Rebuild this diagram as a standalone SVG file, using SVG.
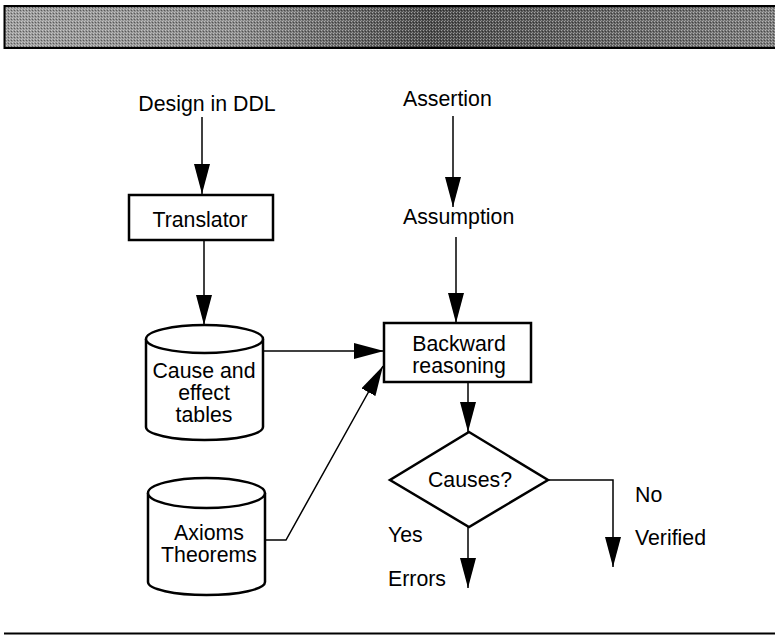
<svg xmlns="http://www.w3.org/2000/svg" width="775" height="635" viewBox="0 0 775 635">
<style>
text{font-family:"Liberation Sans",Arial,sans-serif;font-size:21.3px;fill:#000}
.c{text-anchor:middle}
.box{fill:#fff;stroke:#000;stroke-width:2.5}
.ln{fill:none;stroke:#000;stroke-width:1.5}
</style>
<defs>
<marker id="ah" markerUnits="userSpaceOnUse" markerWidth="31" markerHeight="16" refX="30" refY="8" orient="auto">
<path d="M0,0 L30,8 L0,16 z" fill="#000"/>
</marker>
<linearGradient id="bg" x1="0" y1="0" x2="1" y2="0">
<stop offset="0" stop-color="#9c9c9c"/>
<stop offset="0.3" stop-color="#8a8a8a"/>
<stop offset="0.55" stop-color="#4a4a4a"/>
<stop offset="0.75" stop-color="#606060"/>
<stop offset="1" stop-color="#7c7c7c"/>
</linearGradient>
<pattern id="dots" width="3" height="3" patternUnits="userSpaceOnUse">
<rect x="0" y="0" width="1" height="1" fill="#fff" fill-opacity="0.45"/>
<rect x="2" y="1" width="1" height="1" fill="#000" fill-opacity="0.4"/>
<rect x="1" y="2" width="1" height="1" fill="#fff" fill-opacity="0.3"/>
</pattern>
</defs>
<rect x="0" y="0" width="775" height="635" fill="#fff"/>
<g id="banner">
<rect x="4.5" y="6" width="772" height="42" fill="url(#bg)" stroke="#000" stroke-width="2"/>
<rect x="5.5" y="7" width="770" height="40" fill="url(#dots)"/>
</g>
<line x1="4" y1="633.5" x2="775" y2="633.5" stroke="#000" stroke-width="2"/>

<g id="connectors">
<line class="ln" x1="202" y1="117" x2="202" y2="194" marker-end="url(#ah)"/>
<line class="ln" x1="204" y1="240" x2="204" y2="325" marker-end="url(#ah)"/>
<line class="ln" x1="263" y1="351" x2="384" y2="351" marker-end="url(#ah)"/>
<polyline class="ln" points="265,540 286,540 383,366" marker-end="url(#ah)"/>
<line class="ln" x1="453" y1="116" x2="453" y2="207" marker-end="url(#ah)"/>
<line class="ln" x1="456" y1="237" x2="456" y2="323" marker-end="url(#ah)"/>
<line class="ln" x1="468" y1="382" x2="468" y2="432" marker-end="url(#ah)"/>
<polyline class="ln" points="548,480 613,480 613,567" marker-end="url(#ah)"/>
<line class="ln" x1="468" y1="527" x2="468" y2="588" marker-end="url(#ah)"/>
</g>

<g id="design"><text class="c" x="207" y="111">Design in DDL</text></g>
<g id="translator">
<rect class="box" x="129" y="195" width="144" height="45"/>
<text class="c" x="200" y="227">Translator</text>
</g>
<g id="tables">
<path class="box" d="M146,339 A58.5,14 0 0 1 263,339 L263,427 A58.5,13 0 0 1 146,427 Z"/>
<path class="box" fill="none" d="M146,339 A58.5,14 0 0 0 263,339"/>
<text class="c" x="204" y="378">Cause and</text>
<text class="c" x="204" y="400">effect</text>
<text class="c" x="204" y="422">tables</text>
</g>
<g id="axioms">
<path class="box" d="M148,493 A58.5,15 0 0 1 265,493 L265,582 A58.5,13 0 0 1 148,582 Z"/>
<path class="box" fill="none" d="M148,493 A58.5,15 0 0 0 265,493"/>
<text class="c" x="209" y="540">Axioms</text>
<text class="c" x="209" y="562">Theorems</text>
</g>
<g id="assertion"><text x="403" y="106">Assertion</text></g>
<g id="assumption"><text x="403" y="224">Assumption</text></g>
<g id="backward">
<rect class="box" x="384" y="323" width="147" height="59"/>
<text class="c" x="459" y="351">Backward</text>
<text class="c" x="459" y="373">reasoning</text>
</g>
<g id="causes">
<polygon class="box" points="469,432 548,480 469,527 390,480"/>
<text class="c" x="470" y="487">Causes?</text>
</g>
<g id="labels">
<text x="635" y="502">No</text>
<text x="635" y="545">Verified</text>
<text x="388" y="542">Yes</text>
<text x="388" y="586">Errors</text>
</g>
</svg>
